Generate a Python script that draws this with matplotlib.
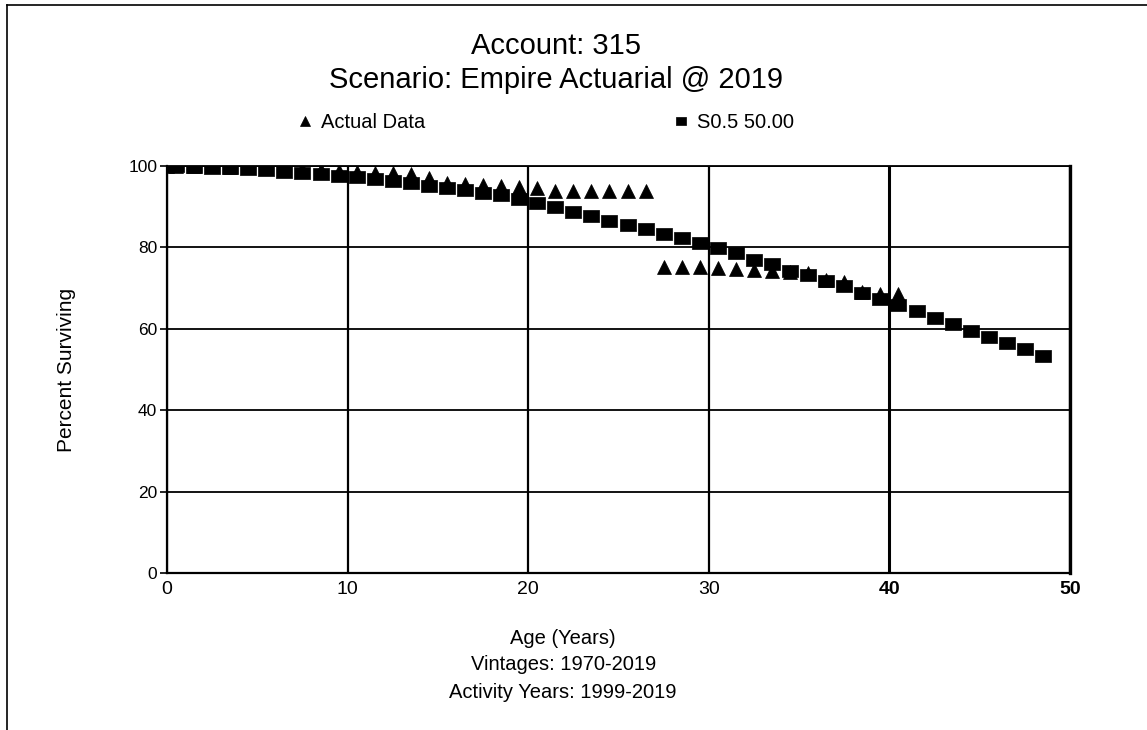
import matplotlib.pyplot as plt
import numpy as np
from matplotlib.lines import Line2D

plt.rcParams['font.family'] = ['Liberation Sans', 'DejaVu Sans']

# Iowa curve S0.5, average life 50 (midpoint ages)
curve_age = [0, 0.5] + [i + 0.5 for i in range(1, 49)]
curve_pct = [100.0, 99.95, 99.8, 99.6, 99.4, 99.2, 98.9, 98.6, 98.3, 98.0, 97.6,
             97.2, 96.7, 96.3, 95.8, 95.2, 94.6, 94.0, 93.4, 92.8, 92.0,
             91.0, 90.0, 88.8, 87.6, 86.6, 85.4, 84.5, 83.3, 82.3, 81.0,
             79.8, 78.6, 77.0, 75.8, 74.3, 73.3, 71.8, 70.4, 68.9, 67.4,
             65.9, 64.4, 62.7, 61.2, 59.5, 58.1, 56.5, 55.0, 53.3]

actual_age = [0, 0.5] + [i + 0.5 for i in range(1, 41)]
actual_pct = [100.0, 100.0, 100.0, 99.9, 99.8, 99.7, 99.6, 99.5, 99.2, 98.9, 98.7,
              98.5, 98.4, 98.3, 98.1, 97.1, 95.8, 95.5, 95.3, 95.1, 94.8,
              94.5, 93.9, 93.9, 93.9, 93.9, 93.9, 93.9,
              75.3, 75.3, 75.3, 75.0, 74.6, 74.4, 74.3, 74.0, 73.6, 72.0,
              71.4, 69.0, 68.6, 68.6]

fig = plt.figure(figsize=(11.47, 7.30), dpi=100)
ax = fig.add_axes([0.1456, 0.2151, 0.7873, 0.5575])

rect = [(-1.35, -1), (1.35, -1), (1.35, 1), (-1.35, 1), (-1.35, -1)]
ax.plot(actual_age, actual_pct, linestyle='none', marker='^', color='black',
        markersize=10, markeredgewidth=0.5, label='Actual Data', zorder=4)
ax.plot(curve_age, curve_pct, linestyle='none', marker=rect, color='black',
        markersize=11, markeredgewidth=0.5, label='S0.5 50.00', zorder=3)

ax.set_xlim(0, 50)
ax.set_ylim(0, 100)
ax.set_xticks([0, 10, 20, 30, 40, 50])
ax.set_yticks([0, 20, 40, 60, 80, 100])
ax.grid(True, color='black', linewidth=1.3)
for gl, xv in zip(ax.get_xgridlines(), [0, 10, 20, 30, 40, 50]):
    gl.set_linewidth(1.6)
    if xv == 40:
        gl.set_linewidth(2.2)
ax.tick_params(axis='x', length=0, pad=6, labelsize=14)
ax.tick_params(axis='y', length=5, width=1.2, pad=2, labelsize=12.5)
for lab in ax.get_xticklabels():
    if lab.get_text() in ('40', '50'):
        lab.set_fontweight('bold')
for side in ['left', 'bottom']:
    ax.spines[side].set_linewidth(1.6)
ax.spines['right'].set_linewidth(2.4)
ax.spines['top'].set_linewidth(1.3)

ax.set_ylabel('Percent Surviving', fontsize=15, labelpad=38)

fig.text(0.485, 0.937, 'Account: 315', ha='center', va='center', fontsize=21)
fig.text(0.485, 0.890, 'Scenario: Empire Actuarial @ 2019', ha='center', va='center', fontsize=21)

leg = fig.legend(loc='center', bbox_to_anchor=(0.475, 0.832), ncol=2, frameon=False,
                 fontsize=14.5, columnspacing=12.2, handletextpad=0.3, handlelength=1.0,
                 markerscale=0.7)

fig.text(0.491, 0.126, 'Age (Years)', ha='center', va='center', fontsize=14.5)
fig.text(0.491, 0.090, 'Vintages: 1970-2019', ha='center', va='center', fontsize=14.5)
fig.text(0.491, 0.052, 'Activity Years: 1999-2019', ha='center', va='center', fontsize=14.5)

# outer frame (top and left edges)
fig.add_artist(Line2D([0.006, 1.0], [0.993, 0.993], transform=fig.transFigure,
                      color='black', linewidth=1.2))
fig.add_artist(Line2D([0.006, 0.006], [0.0, 0.993], transform=fig.transFigure,
                      color='black', linewidth=1.2))

fig.savefig('out.png', dpi=100)
